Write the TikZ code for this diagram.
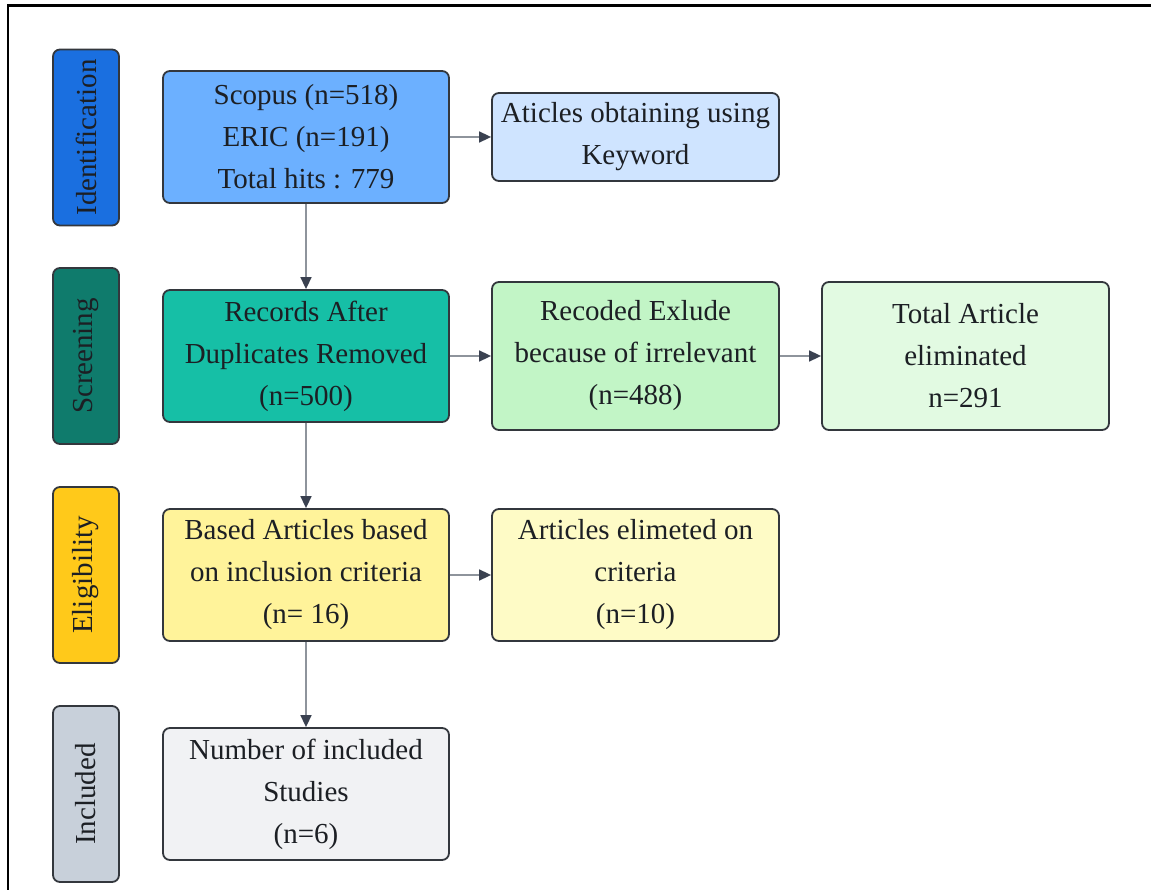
\documentclass[tikz,border=0pt]{standalone}
\usepackage{fontspec}
\setmainfont{Liberation Serif}
\usetikzlibrary{arrows.meta}
\definecolor{txt}{HTML}{1C1F24}
\definecolor{edge}{HTML}{33373D}
\definecolor{lineg}{HTML}{8E949C}
\definecolor{tipc}{HTML}{3A4150}
\definecolor{idblue}{HTML}{1A6FE0}
\definecolor{scrteal}{HTML}{0F7B6C}
\definecolor{elgold}{HTML}{FFC91A}
\definecolor{incgrey}{HTML}{C8D0DA}
\definecolor{scopusc}{HTML}{6CB0FF}
\definecolor{aticc}{HTML}{CFE4FF}
\definecolor{recordc}{HTML}{16BFA6}
\definecolor{recodc}{HTML}{C2F5C6}
\definecolor{totalc}{HTML}{E2FAE2}
\definecolor{basedc}{HTML}{FFF39A}
\definecolor{elimc}{HTML}{FEFBC6}
\definecolor{numc}{HTML}{F1F2F4}
\begin{document}
\begin{tikzpicture}[x=1pt,y=-1pt,
  box/.style={draw=edge, line width=1.8pt, rounded corners=7pt, inner sep=0pt,
    align=center, text=txt, font=\fontsize{29}{42}\selectfont},
  mainbox/.style={box, minimum width=286pt, minimum height=132pt},
  sidebox/.style={box, minimum width=287pt, minimum height=148pt},
  stagebox/.style={box, rotate=90, minimum width=176pt, minimum height=66pt,
    font=\fontsize{29}{32}\selectfont},
  conn/.style={draw=lineg, line width=1.6pt,
    -{Triangle[length=12pt,width=11pt,fill=tipc,color=tipc]}}]
\useasboundingbox (0,0) rectangle (1151,890);
\fill[white] (0,0) rectangle (1151,890);
\draw[line width=2.6pt, black] (8,890) -- (8,5.5) -- (1151,5.5);

% stage labels
\node[stagebox, fill=idblue] (sid) at (86,137.5) {Identification};
\node[stagebox, fill=scrteal] (sscr) at (86,356) {Screening};
\node[stagebox, fill=elgold] (selg) at (86,575) {Eligibility};
\node[stagebox, fill=incgrey] (sinc) at (86,794) {Included};

% main column
\node[mainbox, fill=scopusc] (scopus) at (306,137) {Scopus (n=518)\\ERIC (n=191)\\Total hits : 779};
\node[mainbox, fill=recordc] (records) at (306,356) {Records After\\Duplicates Removed\\(n=500)};
\node[mainbox, fill=basedc] (based) at (306,575) {Based Articles based\\on inclusion criteria\\(n= 16)};
\node[mainbox, fill=numc] (number) at (306,794) {Number of included\\Studies\\(n=6)};

% side boxes
\node[box, fill=aticc, minimum width=287pt, minimum height=88pt] (atic) at (635.5,137) {Aticles obtaining using\\Keyword};
\node[sidebox, fill=recodc] (recod) at (635.5,356) {Recoded Exlude\\because of irrelevant\\(n=488)};
\node[sidebox, fill=totalc] (total) at (965.5,356) {Total Article\\eliminated\\n=291};
\node[box, fill=elimc, minimum width=287pt, minimum height=132pt] (elim) at (635.5,575) {Articles elimeted on\\criteria\\(n=10)};

% connectors
\draw[conn] (scopus.south) -- (records.north);
\draw[conn] (records.south) -- (based.north);
\draw[conn] (based.south) -- (number.north);
\draw[conn] (scopus.east) -- (atic.west);
\draw[conn] (records.east) -- (recod.west);
\draw[conn] (recod.east) -- (total.west);
\draw[conn] (based.east) -- (elim.west);
\end{tikzpicture}
\end{document}
